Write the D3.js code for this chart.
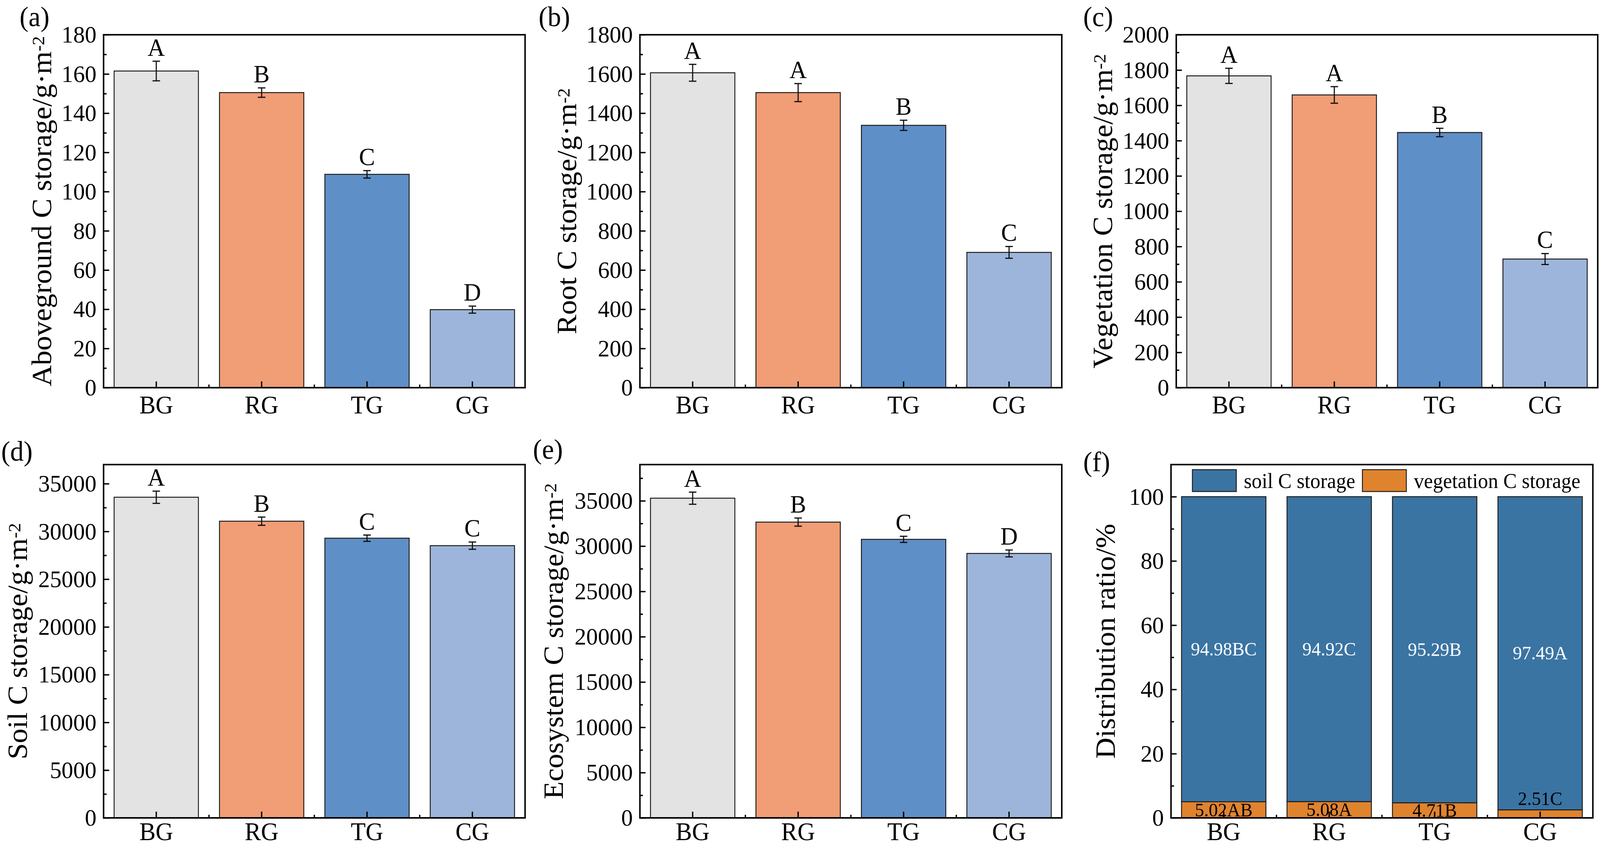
<!DOCTYPE html>
<html>
<head>
<meta charset="utf-8">
<script src="https://cdn.jsdelivr.net/npm/d3@7"></script>
<style>
  html, body { margin: 0; padding: 0; width: 100%; height: 100%; overflow: hidden; background: #fff; }
  #container { width: 100vw; height: 100vh; }
  svg { display: block; }
  text { font-family: "Liberation Serif", "Times New Roman", serif; }
</style>
</head>
<body>
<div id="container"></div>
<script>
/* DATA */
const groups = ["BG", "RG", "TG", "CG"];

const agMean = [161.5, 150.5, 108.8, 39.8];
const agErr = [5.0, 2.4, 1.9, 1.8];
const agSig = ["A", "B", "C", "D"];

const rootMean = [1606, 1505, 1338, 690];
const rootErr = [43, 46, 26, 30];
const rootSig = ["A", "A", "B", "C"];

const vegMean = [1767, 1659, 1446, 729];
const vegErr = [43, 47, 24, 31];
const vegSig = ["A", "A", "B", "C"];

const soilMean = [33580, 31070, 29290, 28510];
const soilErr = [640, 430, 330, 380];
const soilSig = ["A", "B", "C", "C"];

const ecoMean = [35290, 32650, 30745, 29190];
const ecoErr = [670, 450, 340, 380];
const ecoSig = ["A", "B", "C", "D"];

const soilPct = [94.98, 94.92, 95.29, 97.49];
const vegPct = [5.02, 5.08, 4.71, 2.51];
const soilPctSig = ["BC", "C", "B", "A"];
const vegPctSig = ["AB", "A", "B", "C"];

/* CONSTANTS AND GLOBALS */
const width = 4263, height = 2167;
const barColors = ["#e3e3e3", "#f19d76", "#5f8fc7", "#9db5da"];
const soilColor = "#3a74a3", vegColor = "#e0832f";
const outline = "#1e1e1e";

// layout of each panel (pixel boxes of the plot frames)
const panels = [
  { tag: "(a)", mean: agMean, err: agErr, sig: agSig, max: 180, major: 20,
    title: "Aboveground C storage/g·m", sup: "-2", xPad: 20,
    box: { left: 276, right: 1399, top: 89, bottom: 993 }, titleOff: 140, tagPos: [52, 67] },
  { tag: "(b)", mean: rootMean, err: rootErr, sig: rootSig, max: 1800, major: 200,
    title: "Root C storage/g·m", sup: "-2", xPad: 20,
    box: { left: 1705, right: 2829, top: 89, bottom: 993 }, titleOff: 170, tagPos: [1435, 67] },
  { tag: "(c)", mean: vegMean, err: vegErr, sig: vegSig, max: 2000, major: 200,
    title: "Vegetation C storage/g·m", sup: "-2", xPad: 20,
    box: { left: 3134, right: 4257, top: 89, bottom: 993 }, titleOff: 171, tagPos: [2886, 67] },
  { tag: "(d)", mean: soilMean, err: soilErr, sig: soilSig, max: 37000, major: 5000,
    title: "Soil C storage/g·m", sup: "-2", xPad: 11,
    box: { left: 276, right: 1399, top: 1190, bottom: 2095 }, titleOff: 204, tagPos: [3, 1180] },
  { tag: "(e)", mean: ecoMean, err: ecoErr, sig: ecoSig, max: 39000, major: 5000,
    title: "Ecosystem C storage/g·m", sup: "-2", xPad: 11,
    box: { left: 1705, right: 2829, top: 1190, bottom: 2095 }, titleOff: 205, tagPos: [1420, 1175] },
];
const pctPanel = { tag: "(f)", max: 110, major: 20, title: "Distribution ratio/%", sup: "", xPad: 11,
  box: { left: 3120, right: 4244, top: 1190, bottom: 2095 }, titleOff: 150, tagPos: [2886, 1207] };

// the drawing is laid out on a 4263x2167 canvas and stretched to the window
const svg = d3.select("#container")
  .append("svg")
  .attr("width", "100%")
  .attr("height", "100%")
  .attr("viewBox", [0, 0, width, height])
  .attr("preserveAspectRatio", "none");

// scales for one panel
function frame(p) {
  const b = p.box;
  const x = d3.scaleBand().domain(groups).range([b.left, b.right])
    .paddingInner(0.2).paddingOuter(0.1);
  const y = d3.scaleLinear().domain([0, p.max]).range([b.bottom, b.top]);
  return { x, y };
}

// frame, ticks, labels, title and tag of one panel
function decorate(p, x, y) {
  const b = p.box;
  const majors = d3.range(0, p.max + 1e-9, p.major);
  const minors = d3.range(p.major / 2, p.max, p.major);

  svg.append("rect")
    .attr("x", b.left).attr("y", b.top)
    .attr("width", b.right - b.left).attr("height", b.bottom - b.top)
    .attr("fill", "none").attr("stroke", "#000").attr("stroke-width", 4);

  const yMajor = svg.append("g")
    .attr("transform", `translate(${b.left},0)`)
    .call(d3.axisLeft(y).tickValues(majors).tickSize(-15).tickSizeOuter(0).tickPadding(19)
      .tickFormat(d3.format("d")));
  const yMinor = svg.append("g")
    .attr("transform", `translate(${b.left},0)`)
    .call(d3.axisLeft(y).tickValues(minors).tickSize(-8).tickSizeOuter(0).tickFormat(""));

  const xAxis = svg.append("g")
    .attr("transform", `translate(0,${b.bottom})`)
    .call(d3.axisBottom(x).tickSize(-16).tickSizeOuter(0).tickPadding(p.xPad));

  // minor x ticks between the groups
  svg.append("g").selectAll("line")
    .data(groups.slice(1))
    .join("line")
    .attr("x1", d => x(d) - x.step() * x.paddingInner() / 2)
    .attr("x2", d => x(d) - x.step() * x.paddingInner() / 2)
    .attr("y1", b.bottom).attr("y2", b.bottom - 8)
    .attr("stroke", "#000").attr("stroke-width", 3.5);

  [yMajor, yMinor, xAxis].forEach(g => {
    g.select(".domain").remove();
    g.selectAll(".tick line").attr("stroke", "#000").attr("stroke-width", 3.5);
    g.attr("font-family", null).attr("font-size", null);
  });
  yMajor.selectAll(".tick text").attr("font-size", 62).attr("fill", "#000");
  xAxis.selectAll(".tick text").attr("font-size", 65).attr("fill", "#000");

  const t = svg.append("text")
    .attr("transform", `translate(${b.left - p.titleOff},${(b.top + b.bottom) / 2}) rotate(-90)`)
    .attr("text-anchor", "middle")
    .attr("font-size", 75)
    .text(p.title);
  if (p.sup) {
    t.append("tspan").attr("font-size", 47).attr("dy", -18).text(p.sup);
  }

  svg.append("text")
    .attr("x", p.tagPos[0]).attr("y", p.tagPos[1])
    .attr("font-size", 72)
    .text(p.tag);
}

/* BAR PANELS (a)-(e) */
panels.forEach(p => {
  const { x, y } = frame(p);
  const rows = groups.map((g, i) => ({ group: g, mean: p.mean[i], err: p.err[i], sig: p.sig[i], i }));

  svg.append("g").selectAll("rect")
    .data(rows)
    .join("rect")
    .attr("x", d => x(d.group))
    .attr("y", d => y(d.mean))
    .attr("width", x.bandwidth())
    .attr("height", d => y(0) - y(d.mean))
    .attr("fill", d => barColors[d.i])
    .attr("stroke", outline)
    .attr("stroke-width", 2.5);

  const eb = svg.append("g").attr("stroke", "#111").attr("stroke-width", 3);
  const cx = d => x(d.group) + x.bandwidth() / 2;
  eb.selectAll("line.v").data(rows).join("line").attr("class", "v")
    .attr("x1", cx).attr("x2", cx)
    .attr("y1", d => y(d.mean - d.err)).attr("y2", d => y(d.mean + d.err));
  eb.selectAll("line.hi").data(rows).join("line").attr("class", "hi")
    .attr("x1", d => cx(d) - 10).attr("x2", d => cx(d) + 10)
    .attr("y1", d => y(d.mean + d.err)).attr("y2", d => y(d.mean + d.err));
  eb.selectAll("line.lo").data(rows).join("line").attr("class", "lo")
    .attr("x1", d => cx(d) - 10).attr("x2", d => cx(d) + 10)
    .attr("y1", d => y(d.mean - d.err)).attr("y2", d => y(d.mean - d.err));

  svg.append("g").selectAll("text")
    .data(rows)
    .join("text")
    .attr("x", cx)
    .attr("y", d => y(d.mean + d.err) - 14)
    .attr("text-anchor", "middle")
    .attr("font-size", 64)
    .text(d => d.sig);

  decorate(p, x, y);
});

/* DISTRIBUTION PANEL (f) */
(function () {
  const p = pctPanel;
  const { x, y } = frame(p);
  const table = groups.map((g, i) => ({ group: g, veg: vegPct[i], soil: soilPct[i], vs: vegPctSig[i], ss: soilPctSig[i] }));
  const series = d3.stack().keys(["veg", "soil"])(table);
  const colors = { veg: vegColor, soil: soilColor };

  const layer = svg.append("g").selectAll("g")
    .data(series)
    .join("g")
    .attr("fill", d => colors[d.key]);
  layer.selectAll("rect")
    .data(d => d)
    .join("rect")
    .attr("x", d => x(d.data.group))
    .attr("y", d => y(d[1]))
    .attr("width", x.bandwidth())
    .attr("height", d => y(d[0]) - y(d[1]))
    .attr("stroke", outline)
    .attr("stroke-width", 2.5);

  const fs = 49;
  // soil labels, white, centred in the segment
  svg.append("g").selectAll("text")
    .data(series[1])
    .join("text")
    .attr("x", d => x(d.data.group) + x.bandwidth() / 2)
    .attr("y", d => (y(d[0]) + y(d[1])) / 2 + fs * 0.33)
    .attr("text-anchor", "middle")
    .attr("font-size", fs)
    .attr("fill", "#fff")
    .text(d => d3.format(".2f")(d.data.soil) + d.data.ss);

  // vegetation labels, inside if there is room, otherwise above
  svg.append("g").selectAll("text")
    .data(series[0])
    .join("text")
    .attr("x", d => x(d.data.group) + x.bandwidth() / 2)
    .attr("y", d => {
      const h = y(d[0]) - y(d[1]);
      return h > 30 ? (y(d[0]) + y(d[1])) / 2 + fs * 0.33 : y(d[1]) - 12;
    })
    .attr("text-anchor", "middle")
    .attr("font-size", fs)
    .attr("fill", "#000")
    .text(d => d3.format(".2f")(d.data.veg) + d.data.vs);

  decorate(p, x, y);

  // legend
  const b = p.box;
  const legend = [
    { name: "soil C storage", color: soilColor, x: b.left + 57 },
    { name: "vegetation C storage", color: vegColor, x: b.left + 510 },
  ];
  const lg = svg.append("g").selectAll("g").data(legend).join("g");
  lg.append("rect")
    .attr("x", d => d.x).attr("y", b.top + 13)
    .attr("width", 117).attr("height", 56)
    .attr("fill", d => d.color)
    .attr("stroke", outline).attr("stroke-width", 2.5);
  lg.append("text")
    .attr("x", d => d.x + 137).attr("y", b.top + 60)
    .attr("font-size", 54)
    .text(d => d.name);
})();
</script>
</body>
</html>
